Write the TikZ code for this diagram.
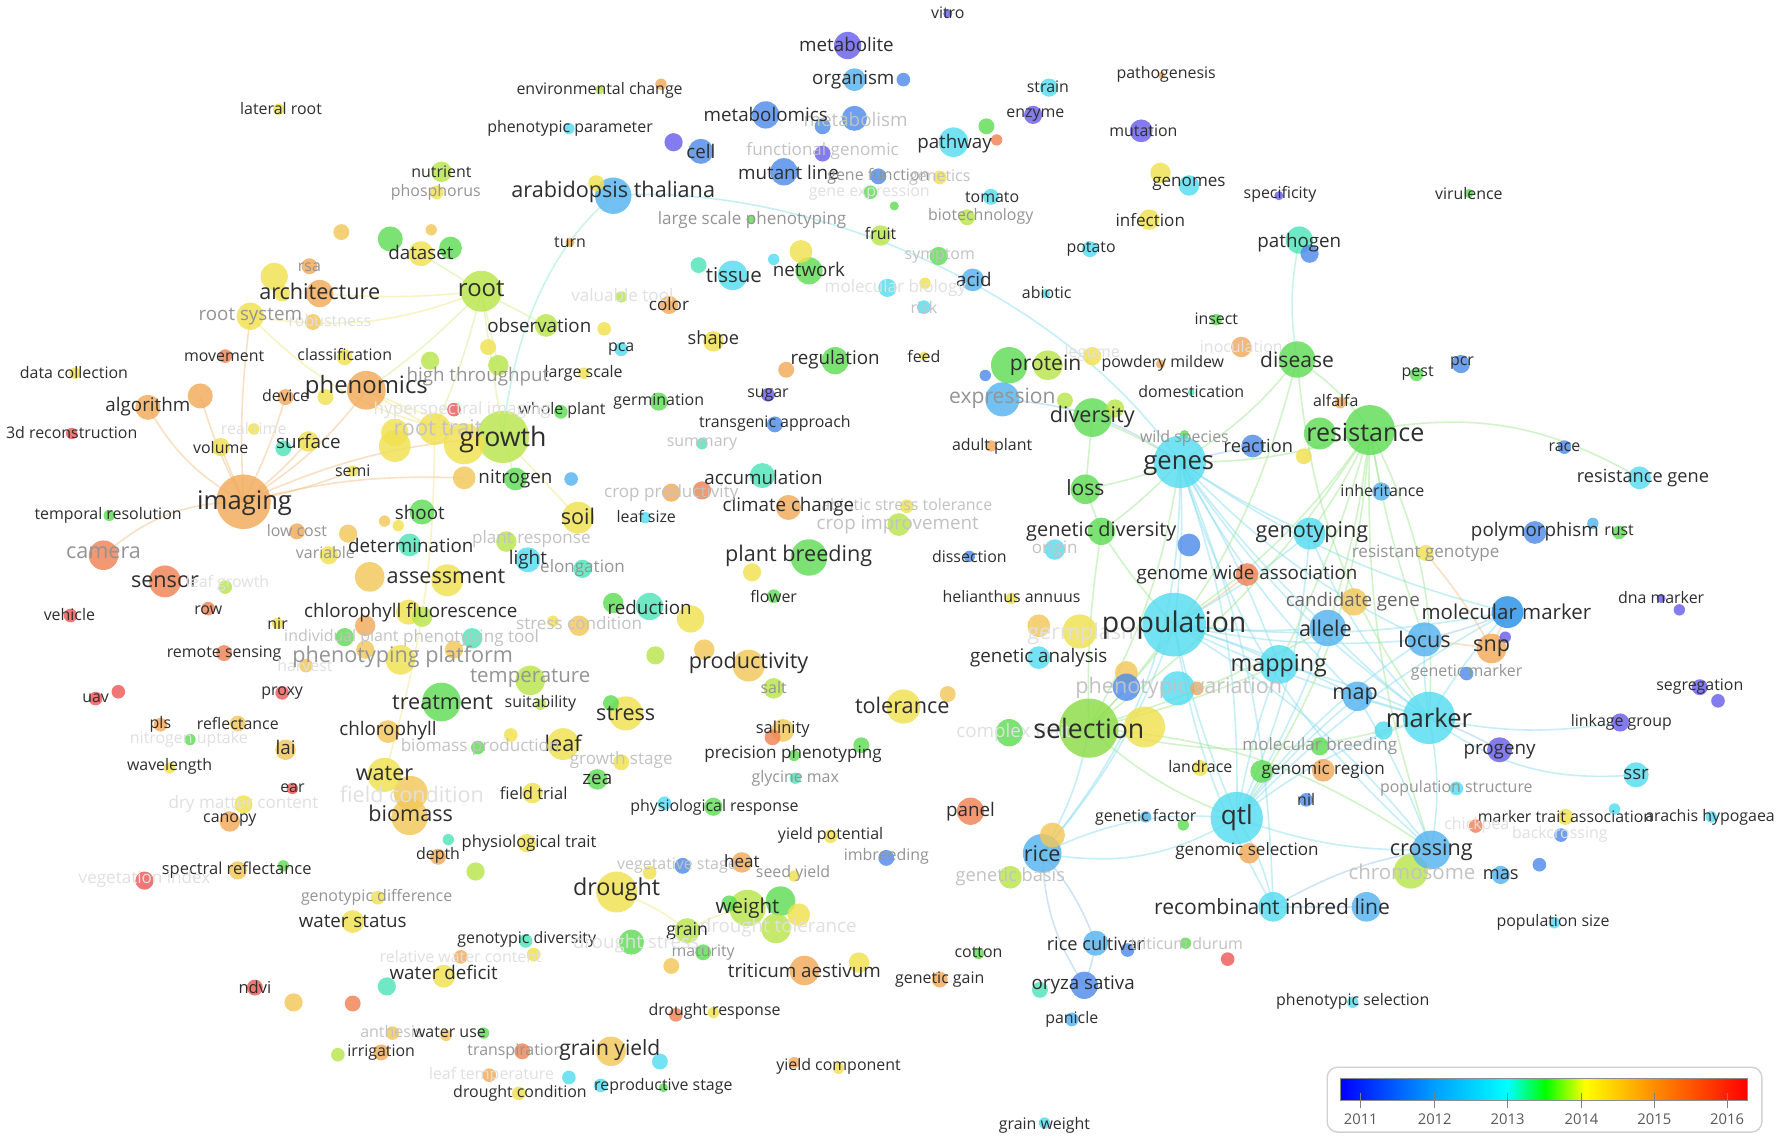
\documentclass[tikz,border=0pt]{standalone}
\usepackage{fontspec}
\setmainfont{Open Sans}
\usetikzlibrary{backgrounds}
\definecolor{cPU}{RGB}{105,95,235}
\definecolor{cBL}{RGB}{80,140,235}
\definecolor{cMB}{RGB}{40,145,230}
\definecolor{cSK}{RGB}{85,180,240}
\definecolor{cCY}{RGB}{85,220,240}
\definecolor{cTQ}{RGB}{80,228,185}
\definecolor{cGR}{RGB}{95,220,85}
\definecolor{cGY}{RGB}{140,220,70}
\definecolor{cYG}{RGB}{185,230,75}
\definecolor{cYE}{RGB}{240,225,80}
\definecolor{cGO}{RGB}{242,200,90}
\definecolor{cOR}{RGB}{242,170,90}
\definecolor{cRO}{RGB}{240,130,85}
\definecolor{cRE}{RGB}{238,88,88}
\definecolor{eOr}{RGB}{245,195,140}
\definecolor{eYe}{RGB}{240,232,140}
\definecolor{eYG}{RGB}{215,238,150}
\definecolor{eGr}{RGB}{165,232,150}
\definecolor{eCy}{RGB}{140,222,240}
\definecolor{eBl}{RGB}{160,200,240}
\definecolor{eTq}{RGB}{150,235,200}
\colorlet{dk}{black!82}
\colorlet{g1}{black!60}
\colorlet{g2}{black!42}
\colorlet{g3}{black!24}
\colorlet{g4}{black!12}
\definecolor{lb0}{RGB}{0,0,255}
\definecolor{lb1}{RGB}{0,160,255}
\definecolor{lb2}{RGB}{0,255,255}
\definecolor{lb3}{RGB}{0,255,0}
\definecolor{lb4}{RGB}{255,255,0}
\definecolor{lb5}{RGB}{255,140,0}
\definecolor{lb6}{RGB}{255,0,0}
\tikzset{
  bub/.style={circle, inner sep=0pt, draw=none, fill opacity=0.82},
  lbl/.style={inner sep=0pt},
  edge/.style={line width=1.4pt, draw opacity=0.5},
}
\newcommand\alllabels{}
\newcommand\bu[5]{\node[bub, minimum size=#4*2pt, fill=#5] (#1) at (#2,#3) {};}
\newcommand\tx[6]{\expandafter\gdef\expandafter\alllabels\expandafter{\alllabels\node[lbl, text=#5, font=\fontsize{#4}{#4}\selectfont] (L#1) at (#2,#3) {#6};}}
\newcommand\ed[4]{\draw[edge,#1] (#2.center) to[bend left=#4] (#3.center);}
\begin{document}
\begin{tikzpicture}[x=1pt,y=-1pt]
\path[use as bounding box] (0,0) rectangle (1568,1003);
% ---------- top ----------
\bu{vitro}{833}{12}{4}{cPU} \tx{vitro}{833}{11}{14}{dk}{vitro}
\bu{metabolite}{745}{40}{12}{cPU} \tx{metabolite}{744}{39}{16.5}{dk}{metabolite}
\bu{organism}{751}{70}{10}{cSK} \tx{organism}{750}{70}{16.5}{dk}{organism}
\bu{u1}{794}{70}{6}{cBL}
\bu{envch}{527}{79}{4}{cYG} \bu{u2}{581}{74}{5}{cOR} \tx{envch}{527}{79}{14}{dk}{environmental change}
\bu{latroot}{245}{96}{5}{cYE} \tx{latroot}{247}{95}{14}{dk}{lateral root}
\bu{phenpar}{500}{113}{5}{cCY} \tx{phenpar}{501}{113}{14}{dk}{phenotypic parameter}
\bu{metabolism}{751}{104}{11}{cBL} \bu{u3}{723}{111}{7}{cBL} \tx{metabolism}{752}{105}{16.5}{g3}{metabolism}
\bu{metabolomics}{673}{101}{12}{cBL} \tx{metabolomics}{673}{101}{16.5}{dk}{metabolomics}
\bu{u4}{592}{125}{8}{cPU}
\bu{cell}{616}{133}{11}{cBL} \tx{cell}{616}{133}{16.5}{dk}{cell}
\bu{funcgen}{723}{135}{7}{cPU} \tx{funcgen}{723}{133}{15}{g3}{functional genomic}
\bu{mutantline}{689}{151}{12}{cBL} \tx{mutantline}{693}{152}{16.5}{dk}{mutant line}
\bu{genefunc}{772}{155}{7}{cBL} \tx{genefunc}{772}{155}{14}{g2}{gene function}
\bu{genetics}{826}{156}{6}{cYE} \tx{genetics}{826}{156}{14}{g3}{genetics}
\bu{geneexpr}{765}{169}{6}{cGR} \tx{geneexpr}{764}{169}{14}{g4}{gene expression}
\bu{u5}{786}{181}{4}{cGR}
\bu{tomato}{871}{173}{7}{cCY} \tx{tomato}{872}{173}{14}{dk}{tomato}
\bu{biotech}{850}{191}{7}{cYG} \tx{biotech}{862}{190}{14}{g2}{biotechnology}
\bu{pathway}{838}{125}{13}{cCY} \bu{u6}{867}{111}{7}{cGR} \bu{u7}{876}{123}{5}{cRO} \tx{pathway}{839}{126}{16.5}{dk}{pathway}
\bu{strain}{922}{77}{8}{cCY} \tx{strain}{921}{76}{14}{dk}{strain}
\bu{enzyme}{908}{101}{8}{cPU} \tx{enzyme}{910}{101}{14}{dk}{enzyme}
\bu{pathogenesis}{1021}{66}{3}{cOR} \tx{pathogenesis}{1025}{65}{14}{dk}{pathogenesis}
\bu{mutation}{1003}{115}{10}{cPU} \tx{mutation}{1005}{115}{14}{dk}{mutation}
\bu{genomes}{1045}{163}{9}{cCY} \bu{u8}{1020}{152}{9}{cYE} \tx{genomes}{1045}{162}{15}{dk}{genomes}
\bu{specificity}{1124}{172}{4}{cPU} \tx{specificity}{1125}{171}{14}{dk}{specificity}
\bu{virulence}{1291}{170}{4}{cGR} \tx{virulence}{1291}{170}{14}{dk}{virulence}
\bu{infection}{1010}{193}{9}{cYE} \tx{infection}{1011}{193}{15}{dk}{infection}
\bu{potato}{958}{219}{7}{cCY} \tx{potato}{959}{219}{14}{dk}{potato}
\bu{pathogen}{1142}{211}{12}{cTQ} \bu{u9}{1151}{223}{8}{cBL} \tx{pathogen}{1142}{213}{16.5}{dk}{pathogen}
\bu{abiotic}{919}{258}{4}{cCY} \tx{abiotic}{920}{257}{14}{dk}{abiotic}
\bu{acid}{855}{246}{10}{cSK} \bu{u10}{813}{249}{5}{cYE} \tx{acid}{856}{246}{16.5}{dk}{acid}
\bu{symptom}{825}{225}{8}{cGR} \tx{symptom}{826}{225}{14}{g3}{symptom}
\bu{molbio}{780}{253}{8}{cCY} \tx{molbio}{787}{253}{15}{g4}{molecular biology}
\bu{risk}{812}{270}{6}{cCY} \tx{risk}{812}{270}{14}{g3}{risk}
\bu{lsp}{660}{193}{4}{cGR} \tx{lsp}{661}{193}{15}{g2}{large scale phenotyping}
\bu{fruit}{774}{207}{9}{cYG} \tx{fruit}{774}{205}{14}{dk}{fruit}
\bu{turn}{501}{213}{4}{cOR} \tx{turn}{501}{213}{14}{dk}{turn}
\bu{arab}{539}{172}{16}{cSK} \bu{u11}{524}{161}{7}{cYE} \tx{arab}{539}{169}{19}{dk}{arabidopsis thaliana}
\bu{tissue}{644}{242}{13}{cCY} \bu{u12}{614}{233}{7}{cTQ} \tx{tissue}{645}{242}{18}{dk}{tissue}
\bu{network}{711}{238}{12}{cGR} \bu{u13}{704}{221}{10}{cYE} \bu{u14}{680}{228}{5}{cCY} \tx{network}{711}{237}{16.5}{dk}{network}
\bu{color}{588}{268}{8}{cOR} \tx{color}{588}{267}{15}{dk}{color}
\bu{valtool}{546}{261}{5}{cYG} \tx{valtool}{547}{259}{15}{g4}{valuable tool}
\bu{observation}{480}{286}{10}{cYG} \bu{u15}{531}{289}{6}{cYE} \tx{observation}{474}{286}{16.5}{dk}{observation}
\bu{shape}{627}{300}{9}{cYE} \tx{shape}{627}{299}{16}{dk}{shape}
\bu{pca}{546}{307}{6}{cCY} \tx{pca}{546}{307}{14}{dk}{pca}
\bu{regulation}{734}{317}{12}{cGR} \bu{u16}{691}{325}{7}{cOR} \tx{regulation}{734}{316}{16.5}{dk}{regulation}
\bu{feed}{812}{313}{4}{cYE} \tx{feed}{812}{313}{14}{dk}{feed}
\bu{protein}{887}{321}{16}{cGR} \bu{u17}{921}{321}{13}{cYG} \bu{legume}{960}{313}{8}{cYE} \bu{u18}{866}{330}{5}{cBL}
\tx{legume}{960}{311}{14}{g4}{legume} \tx{protein}{919}{321}{18.5}{dk}{protein}
\bu{powdery}{1020}{320}{4}{cOR} \tx{powdery}{1022}{319}{14}{dk}{powdery mildew}
\bu{insect}{1069}{281}{5}{cGR} \tx{insect}{1069}{280}{14}{dk}{insect}
\bu{inocul}{1091}{305}{9}{cOR} \tx{inocul}{1091}{305}{14}{g4}{inoculation}
\bu{disease}{1140}{316}{16}{cGR} \tx{disease}{1140}{316}{18.5}{dk}{disease}
\bu{pest}{1245}{329}{6}{cGR} \tx{pest}{1246}{328}{14}{dk}{pest}
\bu{pcr}{1284}{320}{8}{cBL} \tx{pcr}{1285}{319}{14}{dk}{pcr}
\bu{domest}{1047}{345}{3}{cTQ} \tx{domest}{1047}{344}{14}{dk}{domestication}
\bu{alfalfa}{1178}{354}{5}{cOR} \tx{alfalfa}{1174}{352}{14}{dk}{alfalfa}
% ---------- right cluster ----------
\bu{resistance}{1204}{378}{22}{cGR} \bu{u19}{1160}{381}{14}{cGR} \tx{resistance}{1200}{380}{22}{dk}{resistance}
\bu{expression}{881}{351}{15}{cSK} \bu{u20}{936}{352}{7}{cYG} \tx{expression}{881}{350}{18.5}{g2}{expression}
\bu{diversity}{960}{367}{17}{cGR} \bu{u21}{980}{359}{8}{cYG} \tx{diversity}{960}{366}{19}{dk}{diversity}
\bu{adultplant}{871}{392}{5}{cOR} \tx{adultplant}{872}{392}{14}{dk}{adult plant}
\bu{wildsp}{1041}{382}{4}{cGR} \tx{wildsp}{1041}{385}{14}{g2}{wild species}
\bu{genes}{1037}{406}{23}{cCY} \tx{genes}{1036}{409}{22.5}{dk}{genes}
\bu{reaction}{1101}{392}{10}{cBL} \bu{u22}{1146}{401}{7}{cYE} \tx{reaction}{1106}{392}{16}{dk}{reaction}
\bu{race}{1375}{393}{6}{cBL} \tx{race}{1375}{393}{14}{dk}{race}
\bu{resgene}{1441}{420}{10}{cCY} \tx{resgene}{1444}{420}{16}{dk}{resistance gene}
\bu{inherit}{1214}{432}{8}{cSK} \tx{inherit}{1215}{431}{14}{dk}{inheritance}
\bu{loss}{954}{430}{13}{cGR} \tx{loss}{954}{429}{18.5}{dk}{loss}
\bu{gendiv}{968}{467}{12}{cGR} \tx{gendiv}{968}{467}{17.5}{dk}{genetic diversity}
\bu{origin}{927}{483}{9}{cCY} \tx{origin}{927}{483}{15}{g3}{origin}
\bu{u23}{1045}{479}{10}{cBL}
\bu{genotyping}{1151}{469}{14}{cCY} \tx{genotyping}{1153}{468}{19}{dk}{genotyping}
\bu{polymorph}{1349}{468}{10}{cBL} \bu{u24}{1400}{460}{5}{cSK} \tx{polymorph}{1349}{467}{16.5}{dk}{polymorphism}
\bu{rust}{1423}{468}{6}{cGR} \tx{rust}{1423}{466}{14}{dk}{rust}
\bu{resgeno}{1253}{486}{7}{cYE} \tx{resgeno}{1253}{486}{15}{g2}{resistant genotype}
\bu{gwas}{1096}{505}{10}{cRO} \tx{gwas}{1096}{505}{16.5}{dk}{genome wide association}
\bu{dissection}{852}{489}{5}{cBL} \tx{dissection}{852}{489}{14}{dk}{dissection}
\bu{candgene}{1190}{529}{12}{cGO} \tx{candgene}{1189}{529}{16.5}{g1}{candidate gene}
\bu{molmarker}{1325}{538}{14}{cMB} \tx{molmarker}{1324}{538}{18}{dk}{molecular marker}
\bu{dnamarker}{1460}{526}{4}{cPU} \bu{u25}{1476}{536}{5}{cPU} \tx{dnamarker}{1460}{525}{14}{dk}{dna marker}
\bu{helianthus}{889}{526}{5}{cYE} \tx{helianthus}{889}{524}{14}{dk}{helianthus annuus}
\bu{plantbreed}{711}{490}{16}{cGR} \bu{u26}{661}{503}{8}{cYE} \tx{plantbreed}{702}{489}{19}{dk}{plant breeding}
\bu{flower}{680}{524}{6}{cGR} \tx{flower}{680}{524}{14}{dk}{flower}
\bu{germplasm}{949}{555}{15}{cYE} \bu{u27}{913}{550}{10}{cGO} \tx{germplasm}{953}{557}{19}{g4}{germplasm}
\bu{population}{1032}{549}{28}{cCY} \tx{population}{1032}{549}{25}{dk}{population}
\bu{allele}{1167}{552}{16}{cSK} \tx{allele}{1165}{552}{19}{dk}{allele}
\bu{locus}{1252}{562}{15}{cSK} \tx{locus}{1252}{562}{19}{dk}{locus}
\bu{snp}{1311}{570}{13}{cOR} \bu{u28}{1323}{560}{5}{cPU} \tx{snp}{1311}{570}{19}{dk}{snp}
\bu{genanal}{913}{578}{10}{cCY} \tx{genanal}{913}{578}{16.5}{dk}{genetic analysis}
\bu{phenvar}{1035}{605}{15}{cCY} \bu{u29}{990}{591}{10}{cGO} \bu{u30}{990}{604}{12}{cBL} \bu{u31}{1052}{605}{6}{cOR} \tx{phenvar}{1036}{605}{19}{g3}{phenotypic variation}
\bu{mapping}{1124}{584}{17}{cCY} \tx{mapping}{1124}{585}{20.5}{dk}{mapping}
\bu{genmarker}{1289}{592}{6}{cBL} \tx{genmarker}{1289}{591}{14}{g2}{genetic marker}
\bu{map}{1193}{612}{13}{cSK} \tx{map}{1191}{612}{19}{dk}{map}
\bu{complex}{887}{644}{12}{cGR} \tx{complex}{891}{644}{16.5}{g4}{complex trait}
\bu{selection}{957}{640}{26}{cGY} \bu{u32}{1006}{639}{18}{cYE} \tx{selection}{957}{640}{23.5}{dk}{selection}
\bu{marker}{1256}{631}{23}{cCY} \bu{u33}{1216}{642}{8}{cCY} \tx{marker}{1256}{631}{22.5}{dk}{marker}
\bu{segreg}{1494}{604}{7}{cPU} \bu{u34}{1510}{616}{6}{cPU} \tx{segreg}{1494}{603}{14}{dk}{segregation}
\bu{linkage}{1424}{635}{8}{cPU} \tx{linkage}{1425}{635}{14}{dk}{linkage group}
\bu{progeny}{1318}{659}{11}{cPU} \tx{progeny}{1318}{661}{16.5}{dk}{progeny}
\bu{molbreed}{1160}{656}{8}{cGR} \tx{molbreed}{1160}{656}{15}{g2}{molecular breeding}
\bu{tolerance}{794}{621}{15}{cYE} \bu{u35}{833}{610}{7}{cGO} \tx{tolerance}{793}{620}{19}{dk}{tolerance}
\bu{landrace}{1055}{675}{7}{cYE} \tx{landrace}{1055}{674}{14}{dk}{landrace}
\bu{genregion}{1109}{678}{10}{cGR} \bu{u36}{1163}{677}{10}{cOR} \tx{genregion}{1163}{677}{15}{dk}{genomic region}
\bu{ssr}{1438}{681}{11}{cCY} \tx{ssr}{1438}{681}{16.5}{dk}{ssr}
\bu{popstruct}{1280}{693}{6}{cCY} \tx{popstruct}{1280}{693}{14}{g2}{population structure}
\bu{nil}{1148}{703}{6}{cBL} \tx{nil}{1148}{703}{14}{dk}{nil}
\bu{panel}{853}{713}{12}{cRO} \tx{panel}{853}{713}{16.5}{dk}{panel}
\bu{genfactor}{1007}{718}{5}{cSK} \bu{u37}{1040}{725}{5}{cGR} \tx{genfactor}{1007}{718}{14}{dk}{genetic factor}
\bu{qtl}{1087}{719}{23}{cCY} \tx{qtl}{1087}{719}{23}{dk}{qtl}
\bu{mta}{1376}{718}{7}{cYE} \bu{u38}{1419}{711}{5}{cCY} \tx{mta}{1376}{718}{14}{dk}{marker trait association}
\bu{arachis}{1504}{718}{5}{cCY} \tx{arachis}{1503}{718}{14}{dk}{arachis hypogaea}
\bu{chickpea}{1297}{726}{6}{cRO} \tx{chickpea}{1298}{725}{14}{g4}{chickpea}
\bu{backcross}{1372}{734}{6}{cBL} \tx{backcross}{1371}{733}{14}{g4}{backcrossing}
\bu{rice}{916}{750}{17}{cSK} \bu{u39}{925}{734}{11}{cGO} \tx{rice}{916}{750}{19}{dk}{rice}
\bu{genselect}{1098}{750}{9}{cOR} \tx{genselect}{1096}{748}{15}{dk}{genomic selection}
\bu{chromosome}{1240}{766}{15}{cYG} \tx{chromosome}{1241}{766}{18}{g3}{chromosome}
\bu{crossing}{1258}{747}{17}{cSK} \tx{crossing}{1258}{747}{19}{dk}{crossing}
\bu{u40}{1353}{760}{6}{cBL}
\bu{mas}{1319}{769}{8}{cSK} \tx{mas}{1319}{769}{16}{dk}{mas}
\bu{genbasis}{888}{771}{10}{cYG} \tx{genbasis}{888}{771}{16}{g3}{genetic basis}
\bu{ril}{1119}{797}{13}{cCY} \bu{u41}{1201}{797}{13}{cSK} \tx{ril}{1118}{797}{18.5}{dk}{recombinant inbred line}
\bu{popsize}{1366}{811}{5}{cCY} \tx{popsize}{1365}{811}{14}{dk}{population size}
\bu{ricecult}{963}{829}{11}{cSK} \bu{u42}{991}{835}{6}{cBL} \tx{ricecult}{963}{829}{16}{dk}{rice cultivar}
\bu{tdurum}{1042}{829}{5}{cGR} \bu{u43}{1079}{843}{6}{cRE} \tx{tdurum}{1043}{829}{14}{g3}{triticum durum}
\bu{cotton}{860}{838}{5}{cGR} \tx{cotton}{860}{837}{14}{dk}{cotton}
\bu{gengain}{826}{861}{7}{cOR} \tx{gengain}{826}{861}{14}{dk}{genetic gain}
\bu{oryza}{953}{866}{12}{cBL} \bu{u44}{914}{870}{7}{cTQ} \tx{oryza}{952}{866}{16.5}{dk}{oryza sativa}
\bu{panicle}{942}{896}{6}{cSK} \tx{panicle}{942}{896}{14}{dk}{panicle}
\bu{phensel}{1189}{881}{5}{cCY} \tx{phensel}{1189}{880}{14}{dk}{phenotypic selection}
\bu{grainweight}{918}{987}{5}{cCY} \tx{grainweight}{918}{989}{14}{dk}{grain weight}
% ---------- middle ----------
\bu{yieldcomp}{737}{939}{5}{cYE} \bu{u45}{698}{934}{5}{cOR} \tx{yieldcomp}{737}{937}{14}{dk}{yield component}
\bu{drresp}{627}{890}{5}{cYE} \bu{u46}{594}{892}{6}{cRO} \tx{drresp}{628}{889}{14}{dk}{drought response}
\bu{taest}{707}{853}{13}{cOR} \bu{u47}{755}{846}{9}{cYE} \tx{taest}{707}{853}{16.5}{dk}{triticum aestivum}
\bu{drought}{542}{784}{18}{cYE} \tx{drought}{542}{782}{20.5}{dk}{drought}
\bu{weight}{657}{798}{16}{cYG} \bu{u48}{686}{792}{13}{cGR} \bu{u49}{641}{794}{7}{cGR} \bu{u50}{702}{804}{10}{cYE} \bu{drtol}{682}{816}{13}{cYG}
\tx{drtol}{684}{815}{16.5}{g4}{drought tolerance} \tx{weight}{657}{798}{18}{dk}{weight}
\bu{grain}{604}{818}{11}{cYG} \tx{grain}{604}{818}{15.5}{dk}{grain}
\bu{maturity}{618}{837}{7}{cGR} \tx{maturity}{618}{837}{14}{g2}{maturity}
\bu{gendivo}{462}{827}{6}{cTQ} \bu{u51}{469}{839}{6}{cYE} \tx{gendivo}{463}{826}{14}{dk}{genotypic diversity}
\bu{drstress}{555}{828}{11}{cGR} \tx{drstress}{559}{829}{16.5}{g4}{drought stress}
\bu{u52}{590}{849}{7}{cGO}
\bu{vegstage}{571}{767}{6}{cYE} \bu{u53}{600}{761}{7}{cBL} \tx{vegstage}{595}{761}{14}{g3}{vegetative stage}
\bu{heat}{652}{758}{9}{cOR} \tx{heat}{652}{757}{15}{dk}{heat}
\bu{seedyield}{698}{770}{5}{cYE} \tx{seedyield}{697}{768}{14}{g2}{seed yield}
\bu{imbreed}{779}{754}{7}{cBL} \tx{imbreed}{779}{753}{14}{g2}{imbreeding}
\bu{yieldpot}{730}{735}{6}{cYE} \tx{yieldpot}{730}{734}{14}{dk}{yield potential}
\bu{physresp}{627}{709}{8}{cGR} \bu{u54}{584}{706}{6}{cCY} \tx{physresp}{628}{710}{14}{dk}{physiological response}
\bu{glycine}{699}{684}{5}{cTQ} \tx{glycine}{699}{684}{14}{g2}{glycine max}
\bu{precpheno}{698}{664}{5}{cGR} \bu{u55}{757}{655}{7}{cGR} \tx{precpheno}{697}{663}{15}{dk}{precision phenotyping}
\bu{salinity}{688}{642}{10}{cGO} \bu{u56}{679}{648}{7}{cRO} \tx{salinity}{688}{641}{14.5}{dk}{salinity}
\bu{salt}{680}{605}{9}{cYG} \tx{salt}{680}{604}{14}{g2}{salt}
\bu{productivity}{658}{585}{14}{cGO} \bu{u57}{619}{571}{9}{cGO} \tx{productivity}{658}{583}{19}{dk}{productivity}
\bu{accum}{670}{418}{11}{cTQ} \tx{accum}{671}{420}{16.5}{dk}{accumulation}
\bu{abstol}{797}{445}{6}{cYE} \tx{abstol}{797}{443}{14}{g3}{abiotic stress tolerance}
\bu{climch}{693}{446}{11}{cOR} \tx{climch}{693}{445}{16.5}{dk}{climate change}
\bu{cropimp}{790}{461}{10}{cYG} \tx{cropimp}{789}{461}{16.5}{g3}{crop improvement}
\bu{cropprod}{590}{433}{8}{cOR} \bu{u58}{617}{431}{8}{cRO} \tx{cropprod}{590}{433}{15}{g3}{crop productivity}
\bu{leafsize}{567}{455}{5}{cCY} \tx{leafsize}{568}{454}{14}{dk}{leaf size}
\bu{summary}{617}{390}{5}{cTQ} \tx{summary}{617}{390}{14}{g3}{summary}
\bu{transgen}{681}{373}{7}{cBL} \tx{transgen}{681}{372}{14}{dk}{transgenic approach}
\bu{sugar}{675}{347}{6}{cPU} \tx{sugar}{675}{347}{14}{dk}{sugar}
\bu{germination}{579}{353}{8}{cGR} \tx{germination}{579}{353}{14}{dk}{germination}
\bu{wholeplant}{493}{362}{6}{cGR} \tx{wholeplant}{494}{361}{14}{dk}{whole plant}
\bu{largescale}{513}{328}{5}{cYE} \tx{largescale}{513}{328}{14}{dk}{large scale}
\bu{reduction}{571}{533}{12}{cTQ} \bu{u59}{539}{530}{9}{cGR} \bu{u60}{607}{544}{12}{cYE} \tx{reduction}{571}{534}{16.5}{dk}{reduction}
\bu{elong}{512}{500}{8}{cTQ} \tx{elong}{512}{499}{15}{g2}{elongation}
\bu{light}{464}{492}{11}{cCY} \tx{light}{464}{492}{16.5}{dk}{light}
\bu{soil}{508}{455}{14}{cYE} \tx{soil}{508}{454}{19}{dk}{soil}
\bu{nitrogen}{453}{421}{10}{cGR} \bu{u61}{408}{420}{10}{cGO} \bu{u62}{502}{421}{6}{cSK} \tx{nitrogen}{453}{421}{16.5}{dk}{nitrogen}
\bu{plresp}{445}{476}{9}{cYG} \tx{plresp}{467}{474}{15}{g3}{plant response}
\bu{strcond}{509}{550}{9}{cGO} \bu{u63}{486}{546}{5}{cYE} \tx{strcond}{509}{548}{15}{g3}{stress condition}
\bu{u64}{576}{576}{8}{cYG}
\bu{temperature}{466}{598}{13}{cYG} \tx{temperature}{466}{596}{18}{g2}{temperature}
\bu{suitab}{475}{619}{5}{cYG} \tx{suitab}{475}{618}{14}{dk}{suitability}
\bu{stress}{550}{627}{15}{cYE} \bu{u65}{537}{618}{7}{cGR} \tx{stress}{550}{627}{19}{dk}{stress}
\bu{treatment}{388}{617}{17}{cGR} \tx{treatment}{389}{617}{19}{dk}{treatment}
\bu{leaf}{495}{654}{14}{cYE} \tx{leaf}{495}{653}{19}{dk}{leaf}
\bu{u66}{449}{646}{6}{cYE}
\bu{growthstage}{546}{670}{7}{cYE} \tx{growthstage}{546}{668}{15}{g3}{growth stage}
\bu{biomprod}{420}{657}{6}{cGR} \tx{biomprod}{422}{657}{15}{g3}{biomass production}
\bu{zea}{525}{685}{9}{cGR} \tx{zea}{525}{685}{16.5}{dk}{zea}
\bu{fieldtrial}{468}{697}{9}{cYE} \tx{fieldtrial}{469}{697}{14.5}{dk}{field trial}
\bu{phystrait}{463}{741}{8}{cYE} \bu{u67}{394}{738}{5}{cTQ} \tx{phystrait}{465}{741}{14.5}{dk}{physiological trait}
\bu{u68}{418}{766}{8}{cYG}
% ---------- left ----------
\bu{root}{423}{256}{18}{cYG} \tx{root}{423}{254}{21}{dk}{root}
\bu{dataset}{370}{223}{11}{cYE} \bu{u69}{343}{210}{11}{cGR} \bu{u70}{396}{218}{10}{cGR} \tx{dataset}{370}{222}{16.5}{dk}{dataset}
\bu{nutrient}{388}{151}{9}{cYG} \tx{nutrient}{388}{151}{14}{dk}{nutrient}
\bu{phosph}{384}{169}{6}{cYE} \tx{phosph}{383}{169}{14}{g2}{phosphorus}
\bu{u71}{300}{204}{7}{cGO} \bu{u72}{379}{202}{5}{cGO}
\bu{rsa}{272}{234}{7}{cOR} \tx{rsa}{272}{235}{14}{g2}{rsa}
\bu{architecture}{281}{258}{12}{cOR} \bu{u73}{241}{243}{12}{cYE} \bu{u74}{248}{258}{7}{cYE} \tx{architecture}{281}{256}{19}{dk}{architecture}
\bu{rootsys}{220}{278}{12}{cYE} \bu{u75}{275}{283}{7}{cGO} \tx{robust}{290}{282}{14}{g4}{robustness} \tx{rootsys}{220}{278}{16.5}{g2}{root system}
\bu{movement}{198}{313}{6}{cRO} \tx{movement}{197}{313}{14}{dk}{movement}
\bu{classif}{303}{314}{7}{cYE} \tx{classif}{303}{312}{14}{dk}{classification}
\bu{datacoll}{66}{328}{5}{cYE} \tx{datacoll}{65}{327}{14}{dk}{data collection}
\bu{u76}{378}{317}{8}{cYG}
\bu{hithru}{438}{321}{9}{cYG} \bu{u77}{429}{305}{7}{cYE} \tx{hithru}{420}{331}{16.5}{g2}{high throughput}
\bu{phenomics}{322}{343}{17}{cOR} \bu{u78}{286}{349}{7}{cYE} \tx{phenomics}{322}{340}{21}{dk}{phenomics}
\bu{device}{251}{349}{7}{cOR} \tx{device}{251}{348}{14}{dk}{device}
\bu{algorithm}{130}{358}{11}{cOR} \bu{u79}{176}{348}{11}{cOR} \tx{algorithm}{130}{357}{16.5}{dk}{algorithm}
\bu{recon}{63}{381}{5}{cRE} \tx{recon}{63}{380}{14}{dk}{3d reconstruction}
\bu{realtime}{223}{377}{5}{cYE} \tx{realtime}{223}{377}{14}{g4}{real time}
\bu{volume}{194}{393}{8}{cYE} \tx{volume}{194}{393}{14}{dk}{volume}
\bu{surface}{271}{388}{9}{cYE} \bu{u80}{249}{394}{7}{cTQ} \tx{surface}{271}{388}{16.5}{dk}{surface}
\bu{semi}{310}{414}{5}{cYE} \tx{semi}{310}{414}{14}{dk}{semi}
\bu{hyperspec}{399}{360}{6}{cRE} \tx{hyperspec}{406}{360}{15}{g4}{hyperspectral imaging}
\bu{roottrait}{382}{377}{14}{cYE} \bu{u81}{347}{380}{12}{cYE} \bu{u82}{347}{392}{14}{cYE} \tx{roottrait}{385}{376}{19}{g3}{root trait}
\bu{growth}{442}{384}{23}{cYG} \bu{u83}{408}{390}{18}{cYE} \tx{growth}{442}{386}{23.5}{dk}{growth}
\bu{imaging}{214}{441}{24}{cOR} \tx{imaging}{215}{442}{22.5}{dk}{imaging}
\bu{temporal}{96}{453}{5}{cGR} \tx{temporal}{95}{453}{14}{dk}{temporal resolution}
\bu{lowcost}{261}{467}{7}{cOR} \tx{lowcost}{261}{466}{14}{g2}{low cost}
\bu{u84}{306}{469}{8}{cGO} \bu{u85}{338}{458}{5}{cGO} \bu{u86}{350}{462}{5}{cYE}
\bu{shoot}{371}{450}{11}{cGR} \tx{shoot}{369}{450}{16.5}{dk}{shoot}
\bu{variable}{289}{488}{8}{cYE} \tx{variable}{286}{486}{14}{g2}{variable}
\bu{determ}{360}{479}{10}{cTQ} \tx{determ}{361}{479}{16.5}{dk}{determination}
\bu{camera}{91}{488}{13}{cRO} \tx{camera}{91}{486}{19}{g2}{camera}
\bu{sensor}{145}{511}{14}{cRO} \tx{sensor}{145}{511}{19}{dk}{sensor}
\bu{leafgrowth}{198}{516}{6}{cYG} \tx{leafgrowth}{200}{513}{14}{g4}{leaf growth}
\bu{assessment}{325}{507}{13}{cGO} \bu{u87}{393}{510}{14}{cYE} \tx{assessment}{392}{507}{19}{dk}{assessment}
\bu{vehicle}{62}{541}{6}{cRE} \tx{vehicle}{61}{540}{14}{dk}{vehicle}
\bu{row}{183}{535}{6}{cRO} \tx{row}{183}{536}{14}{dk}{row}
\bu{nir}{244}{548}{5}{cYE} \tx{nir}{244}{548}{14}{dk}{nir}
\bu{chlfluor}{359}{538}{11}{cYE} \bu{u88}{321}{550}{9}{cOR} \bu{u89}{371}{542}{9}{cYG} \tx{chlfluor}{361}{538}{16.5}{dk}{chlorophyll fluorescence}
\bu{indplant}{303}{560}{8}{cGR} \tx{indplant}{300}{560}{14}{g3}{individual plant}
\bu{phentool}{415}{561}{9}{cTQ} \tx{phentool}{414}{561}{15}{g3}{phenotyping tool}
\bu{remsens}{197}{574}{7}{cRO} \tx{remsens}{197}{574}{14}{dk}{remote sensing}
\bu{harvest}{269}{585}{6}{cGO} \tx{harvest}{268}{585}{14}{g4}{harvest}
\bu{phenplat}{352}{580}{13}{cYE} \bu{u90}{321}{571}{8}{cGO} \bu{u91}{399}{571}{8}{cGO} \tx{phenplat}{354}{577}{19}{g2}{phenotyping platform}
\bu{uav}{84}{614}{6}{cRE} \bu{u92}{104}{608}{6}{cRE} \tx{uav}{84}{614}{14}{dk}{uav}
\bu{proxy}{248}{609}{6}{cRE} \tx{proxy}{248}{609}{14}{dk}{proxy}
\bu{pls}{141}{637}{6}{cOR} \tx{pls}{141}{637}{14}{dk}{pls}
\bu{reflect}{209}{636}{7}{cGO} \tx{reflect}{209}{636}{14}{dk}{reflectance}
\bu{nuptake}{167}{650}{5}{cGR} \tx{nuptake}{166}{650}{14}{g4}{nitrogen uptake}
\bu{chlorophyll}{341}{643}{10}{cGO} \tx{chlorophyll}{341}{642}{16.5}{dk}{chlorophyll}
\bu{lai}{251}{659}{9}{cGO} \tx{lai}{251}{657}{16.5}{dk}{lai}
\bu{wavelength}{149}{675}{5}{cYE} \tx{wavelength}{149}{674}{14}{dk}{wavelength}
\bu{ear}{257}{693}{5}{cRE} \tx{ear}{257}{693}{14}{dk}{ear}
\bu{fieldcond}{361}{697}{15}{cGO} \tx{fieldcond}{362}{698}{19}{g4}{field condition}
\bu{water}{338}{681}{15}{cYE} \tx{water}{338}{680}{19}{dk}{water}
\bu{biomass}{360}{718}{16}{cGO} \tx{biomass}{361}{715}{19}{dk}{biomass}
\bu{drymatter}{214}{707}{8}{cYE} \tx{drymatter}{214}{707}{15}{g4}{dry matter content}
\bu{canopy}{202}{722}{9}{cOR} \tx{canopy}{202}{721}{14}{dk}{canopy}
\bu{depth}{385}{753}{7}{cOR} \tx{depth}{385}{752}{14}{dk}{depth}
\bu{specrefl}{209}{765}{8}{cGO} \bu{u93}{249}{761}{5}{cGR} \tx{specrefl}{208}{765}{14.5}{dk}{spectral reflectance}
\bu{vegindex}{127}{774}{8}{cRE} \tx{vegindex}{127}{773}{15}{g4}{vegetation index}
\bu{genodiff}{332}{789}{6}{cYE} \tx{genodiff}{331}{789}{14}{g2}{genotypic difference}
\bu{waterstatus}{310}{810}{10}{cYE} \tx{waterstatus}{310}{810}{16.5}{dk}{water status}
\bu{relwater}{405}{841}{6}{cOR} \tx{relwater}{405}{841}{14}{g4}{relative water content}
\bu{waterdef}{390}{858}{10}{cYE} \bu{u94}{340}{867}{8}{cTQ} \tx{waterdef}{390}{855}{16.5}{dk}{water deficit}
\bu{ndvi}{224}{868}{7}{cRE} \tx{ndvi}{224}{868}{14.5}{dk}{ndvi}
\bu{u95}{258}{881}{8}{cGO} \bu{u96}{310}{882}{7}{cRO}
\bu{anthesis}{345}{908}{6}{cGO} \tx{anthesis}{344}{907}{14}{g3}{anthesis}
\bu{wateruse}{425}{908}{5}{cGR} \bu{u97}{392}{910}{5}{cGO} \tx{wateruse}{395}{907}{14}{dk}{water use}
\bu{irrig}{335}{925}{7}{cOR} \bu{u98}{297}{927}{6}{cYG} \tx{irrig}{335}{925}{14}{dk}{irrigation}
\bu{transp}{459}{924}{7}{cRO} \tx{transp}{453}{924}{14}{g2}{transpiration}
\bu{grainyield}{537}{924}{13}{cGO} \bu{u99}{580}{933}{7}{cCY} \tx{grainyield}{536}{923}{18.5}{dk}{grain yield}
\bu{leaftemp}{430}{945}{6}{cOR} \bu{u100}{500}{947}{6}{cCY} \tx{leaftemp}{432}{945}{14}{g4}{leaf temperature}
\bu{drcond}{456}{961}{6}{cYE} \tx{drcond}{457}{961}{14}{dk}{drought condition}
\bu{reprostage}{528}{954}{6}{cCY} \bu{u101}{583}{956}{4}{cGR} \tx{reprostage}{583}{955}{14}{dk}{reproductive stage}
% ---------- labels on top of bubbles ----------
\alllabels
% ---------- legend ----------
\node[draw=black!18, line width=1.2pt, rounded corners=9pt, minimum width=382pt, minimum height=57pt, inner sep=0pt] (legend) at (1357.5,966.5) {};
\shade[left color=lb0, right color=lb1] (1178.5,947.6) rectangle (1261,966.8);
\shade[left color=lb1, right color=lb2] (1261,947.6) rectangle (1325,966.8);
\shade[left color=lb2, right color=lb3] (1325,947.6) rectangle (1358,966.8);
\shade[left color=lb3, right color=lb4] (1358,947.6) rectangle (1393,966.8);
\shade[left color=lb4, right color=lb5] (1393,947.6) rectangle (1454,966.8);
\shade[left color=lb5, right color=lb6] (1454,947.6) rectangle (1536,966.8);
\draw[black!45, line width=0.8pt] (1178.5,947.6) rectangle (1536,966.8);
\foreach \xx/\yy in {1196/2011,1261/2012,1325/2013,1390/2014,1454/2015,1518/2016}{
  \draw[black!50, line width=1pt] (\xx,960.6) -- (\xx,974);
  \node[lbl, text=black!65, font=\fontsize{13}{13}\selectfont] (y\yy) at (\xx,983.5) {\yy};
}
% ---------- edges ----------
\begin{pgfonlayer}{background}
\fill[white] (0,0) rectangle (1568,1003);
\ed{eOr}{imaging}{algorithm}{15}
\ed{eOr}{imaging}{u79}{5}
\ed{eOr}{imaging}{rootsys}{5}
\ed{eOr}{imaging}{phenomics}{-10}
\ed{eOr}{imaging}{device}{-5}
\ed{eOr}{imaging}{surface}{-5}
\ed{eOr}{imaging}{semi}{-5}
\ed{eOr}{imaging}{growth}{10}
\ed{eOr}{imaging}{u61}{8}
\ed{eOr}{imaging}{camera}{-20}
\ed{eOr}{imaging}{volume}{0}
\ed{eYe}{rootsys}{root}{-15}
\ed{eYe}{rootsys}{growth}{-20}
\ed{eYe}{architecture}{root}{-5}
\ed{eYG}{root}{growth}{0}
\ed{eYG}{root}{roottrait}{5}
\ed{eYG}{root}{hithru}{0}
\ed{eYG}{root}{dataset}{0}
\ed{eYG}{root}{phenomics}{5}
\ed{eYG}{root}{observation}{0}
\ed{eYe}{phenomics}{growth}{-5}
\ed{eYe}{phenomics}{roottrait}{0}
\ed{eYe}{growth}{soil}{0}
\ed{eYG}{growth}{nitrogen}{0}
\ed{eYe}{roottrait}{water}{8}
\ed{eYe}{drought}{grain}{10}
\ed{eYe}{grain}{weight}{10}
\draw[edge,eCy] (arab.center) .. controls (700,160) and (930,250) .. (genes.center);
\draw[edge,eTq] (arab.center) .. controls (480,220) and (450,300) .. (growth.center);
\ed{eCy}{genes}{population}{5}
\ed{eCy}{genes}{qtl}{10}
\ed{eCy}{genes}{marker}{-10}
\ed{eCy}{genes}{mapping}{5}
\ed{eCy}{genes}{allele}{-5}
\ed{eCy}{genes}{locus}{-10}
\ed{eGr}{genes}{selection}{10}
\ed{eGr}{genes}{resistance}{-10}
\ed{eGr}{genes}{disease}{-10}
\ed{eBl}{genes}{expression}{-15}
\ed{eGr}{genes}{loss}{5}
\ed{eCy}{genes}{genotyping}{-5}
\ed{eCy}{genes}{crossing}{-15}
\ed{eCy}{genes}{rice}{20}
\ed{eCy}{genes}{molmarker}{-10}
\ed{eBl}{genes}{reaction}{0}
\ed{eGr}{genes}{gendiv}{5}
\ed{eGr}{genes}{diversity}{-5}
\ed{eCy}{genes}{ril}{10}
\ed{eCy}{genes}{map}{-8}
\ed{eCy}{population}{qtl}{-5}
\ed{eCy}{population}{marker}{-5}
\ed{eGr}{population}{selection}{5}
\ed{eCy}{population}{mapping}{5}
\ed{eCy}{population}{allele}{-5}
\ed{eCy}{population}{locus}{-8}
\ed{eOr}{population}{gwas}{-5}
\ed{eGr}{population}{resistance}{-10}
\ed{eGr}{population}{gendiv}{5}
\ed{eCy}{population}{rice}{10}
\ed{eCy}{population}{crossing}{10}
\ed{eCy}{population}{map}{5}
\ed{eCy}{population}{molmarker}{-8}
\ed{eCy}{population}{genotyping}{-5}
\ed{eCy}{population}{ril}{-10}
\ed{eCy}{qtl}{marker}{10}
\ed{eCy}{qtl}{rice}{20}
\ed{eCy}{qtl}{rice}{-15}
\ed{eCy}{qtl}{mapping}{5}
\ed{eCy}{qtl}{ril}{10}
\ed{eCy}{qtl}{crossing}{-10}
\ed{eCy}{qtl}{locus}{10}
\ed{eGr}{qtl}{resistance}{-15}
\ed{eGr}{qtl}{selection}{10}
\ed{eCy}{qtl}{allele}{-5}
\ed{eCy}{qtl}{molmarker}{8}
\ed{eCy}{qtl}{map}{5}
\ed{eCy}{qtl}{genotyping}{-10}
\ed{eGr}{marker}{resistance}{-15}
\ed{eGr}{marker}{selection}{15}
\ed{eCy}{marker}{ssr}{-20}
\ed{eCy}{marker}{linkage}{-10}
\ed{eCy}{marker}{molmarker}{5}
\ed{eCy}{marker}{crossing}{10}
\ed{eCy}{marker}{map}{0}
\ed{eCy}{marker}{locus}{5}
\ed{eCy}{marker}{allele}{5}
\ed{eCy}{marker}{mapping}{-5}
\ed{eBl}{marker}{progeny}{5}
\ed{eCy}{marker}{genotyping}{10}
\ed{eGr}{marker}{disease}{15}
\ed{eGr}{resistance}{disease}{-10}
\ed{eGr}{resistance}{resgene}{20}
\ed{eGr}{resistance}{genotyping}{5}
\ed{eGr}{resistance}{inherit}{0}
\ed{eGr}{resistance}{selection}{10}
\ed{eGr}{resistance}{crossing}{-10}
\ed{eGr}{resistance}{mapping}{5}
\ed{eGr}{resistance}{locus}{-5}
\ed{eGr}{resistance}{allele}{5}
\ed{eTq}{disease}{pathogen}{10}
\ed{eGr}{disease}{selection}{15}
\ed{eCy}{selection}{rice}{10}
\ed{eGr}{selection}{gendiv}{5}
\ed{eGr}{selection}{mapping}{-5}
\ed{eGr}{selection}{allele}{-5}
\ed{eGr}{selection}{crossing}{15}
\ed{eBl}{rice}{ricecult}{10}
\ed{eBl}{rice}{oryza}{-15}
\ed{eBl}{ricecult}{oryza}{5}
\ed{eGr}{gendiv}{loss}{0}
\ed{eGr}{diversity}{loss}{0}
\ed{eOr}{locus}{snp}{0}
\ed{eOr}{molmarker}{snp}{0}
\ed{eOr}{resgeno}{snp}{5}
\ed{eBl}{molmarker}{locus}{5}
\ed{eBl}{crossing}{ril}{-10}
\ed{eBl}{ril}{u41}{0}
\ed{eCy}{map}{crossing}{5}
\end{pgfonlayer}
\end{tikzpicture}
\end{document}
